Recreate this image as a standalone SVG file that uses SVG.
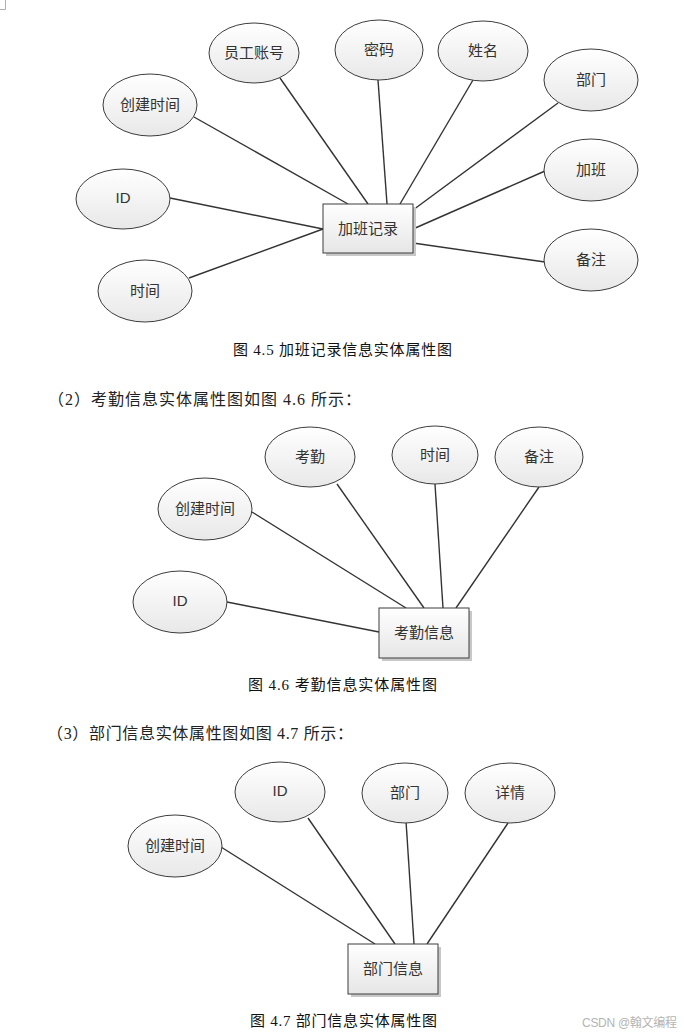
<svg xmlns="http://www.w3.org/2000/svg" width="685" height="1036" viewBox="0 0 685 1036">
<style>
.ell{fill:url(#eg);stroke:#3c3c3c;stroke-width:1}
.box{fill:url(#rg);stroke:#3c3c3c;stroke-width:1}
.shd{fill:#c8c8c8}
.lbl{font-family:"Microsoft YaHei","Noto Sans CJK SC",sans-serif;font-size:15px;fill:#333;text-anchor:middle;dominant-baseline:central}
.id{font-family:"Liberation Sans","Noto Sans CJK SC",sans-serif;font-size:15px;fill:#333;text-anchor:middle;dominant-baseline:central}
.cap{font-family:"Liberation Serif","Noto Sans CJK SC",serif;font-size:15px;fill:#111}
.para{font-family:"Liberation Serif","Noto Sans CJK SC",serif;font-size:16px;fill:#222}
.con line{stroke:#333;stroke-width:1.4}
</style>
<defs>
<linearGradient id="eg" x1="0" y1="0" x2="0" y2="1">
<stop offset="0" stop-color="#ffffff"/>
<stop offset="1" stop-color="#e8e8e8"/>
</linearGradient>
<linearGradient id="rg" x1="0" y1="0" x2="0" y2="1">
<stop offset="0" stop-color="#ffffff"/>
<stop offset="1" stop-color="#e6e6e6"/>
</linearGradient>
</defs>
<rect width="685" height="1036" fill="#ffffff"/>
<path d="M5.5 0 V9.5 H0" fill="none" stroke="#b0b0b0" stroke-width="1"/>

<g id="connectors" class="con">
<line x1="194" y1="117" x2="348" y2="204"/>
<line x1="280" y1="78" x2="368" y2="204"/>
<line x1="378" y1="80" x2="387" y2="204"/>
<line x1="473" y1="80" x2="400" y2="204"/>
<line x1="558" y1="103" x2="413" y2="210"/>
<line x1="545" y1="171" x2="413" y2="229"/>
<line x1="545" y1="262" x2="413" y2="243"/>
<line x1="170" y1="198" x2="323" y2="229"/>
<line x1="189" y1="278" x2="323" y2="229"/>

<line x1="252" y1="512" x2="406" y2="608"/>
<line x1="337" y1="484" x2="424" y2="608"/>
<line x1="435" y1="484" x2="443" y2="608"/>
<line x1="539" y1="487" x2="456" y2="608"/>
<line x1="227" y1="602" x2="379" y2="632"/>

<line x1="221" y1="847" x2="375" y2="944"/>
<line x1="308" y1="818" x2="395" y2="944"/>
<line x1="406" y1="821" x2="414" y2="944"/>
<line x1="508" y1="823" x2="427" y2="944"/>
</g>

<g id="d1-entity"><rect class="shd" x="326" y="207" width="90" height="49"/><rect class="box" x="323" y="204" width="90" height="49"/><text class="lbl" x="368" y="227">加班记录</text></g>
<g id="d1-yggh"><ellipse class="ell" cx="254" cy="53" rx="45" ry="30"/><text class="lbl" x="254" y="51">员工账号</text></g>
<g id="d1-mm"><ellipse class="ell" cx="379" cy="50" rx="44" ry="30"/><text class="lbl" x="379" y="48">密码</text></g>
<g id="d1-xm"><ellipse class="ell" cx="483" cy="51" rx="45" ry="30"/><text class="lbl" x="483" y="49">姓名</text></g>
<g id="d1-cjsj"><ellipse class="ell" cx="150" cy="105" rx="47" ry="31"/><text class="lbl" x="150" y="103">创建时间</text></g>
<g id="d1-bm"><ellipse class="ell" cx="591" cy="80" rx="47" ry="31"/><text class="lbl" x="591" y="78">部门</text></g>
<g id="d1-jb"><ellipse class="ell" cx="591" cy="170" rx="47" ry="31"/><text class="lbl" x="591" y="168">加班</text></g>
<g id="d1-bz"><ellipse class="ell" cx="591" cy="260" rx="47" ry="31"/><text class="lbl" x="591" y="258">备注</text></g>
<g id="d1-id"><ellipse class="ell" cx="123" cy="199" rx="47" ry="30"/><text class="id" x="123" y="197">ID</text></g>
<g id="d1-sj"><ellipse class="ell" cx="145" cy="291" rx="47" ry="31"/><text class="lbl" x="145" y="289">时间</text></g>

<text class="cap" x="233" y="355" textLength="219" lengthAdjust="spacing">图 4.5 加班记录信息实体属性图</text>
<text class="para" x="48" y="405" textLength="313" lengthAdjust="spacing">（2）考勤信息实体属性图如图 4.6 所示：</text>

<g id="d2-entity"><rect class="shd" x="382" y="611" width="90" height="50"/><rect class="box" x="379" y="608" width="90" height="50"/><text class="lbl" x="424" y="631">考勤信息</text></g>
<g id="d2-kq"><ellipse class="ell" cx="310" cy="457" rx="45" ry="30"/><text class="lbl" x="310" y="455">考勤</text></g>
<g id="d2-sj"><ellipse class="ell" cx="435" cy="455" rx="43" ry="29"/><text class="lbl" x="435" y="453">时间</text></g>
<g id="d2-bz"><ellipse class="ell" cx="539" cy="457" rx="44" ry="30"/><text class="lbl" x="539" y="455">备注</text></g>
<g id="d2-cjsj"><ellipse class="ell" cx="205" cy="509" rx="47" ry="31"/><text class="lbl" x="205" y="507">创建时间</text></g>
<g id="d2-id"><ellipse class="ell" cx="180" cy="602" rx="47" ry="31"/><text class="id" x="180" y="600">ID</text></g>

<text class="cap" x="248" y="690" textLength="189" lengthAdjust="spacing">图 4.6 考勤信息实体属性图</text>
<text class="para" x="47" y="739" textLength="306" lengthAdjust="spacing">（3）部门信息实体属性图如图 4.7 所示：</text>

<g id="d3-entity"><rect class="shd" x="351" y="947" width="90" height="50"/><rect class="box" x="348" y="944" width="90" height="50"/><text class="lbl" x="393" y="967">部门信息</text></g>
<g id="d3-cjsj"><ellipse class="ell" cx="175" cy="846" rx="47" ry="31"/><text class="lbl" x="175" y="844">创建时间</text></g>
<g id="d3-id"><ellipse class="ell" cx="280" cy="792" rx="45" ry="30"/><text class="id" x="280" y="790">ID</text></g>
<g id="d3-bm"><ellipse class="ell" cx="405" cy="793" rx="43" ry="30"/><text class="lbl" x="405" y="791">部门</text></g>
<g id="d3-xq"><ellipse class="ell" cx="510" cy="793" rx="45" ry="30"/><text class="lbl" x="510" y="791">详情</text></g>

<text class="cap" x="250" y="1026" textLength="187" lengthAdjust="spacing">图 4.7 部门信息实体属性图</text>
<text x="582" y="1027" font-family="Liberation Sans,'Noto Sans CJK SC',sans-serif" font-size="12" fill="#b4b4b4" textLength="95" lengthAdjust="spacing">CSDN @翰文编程</text>
</svg>
